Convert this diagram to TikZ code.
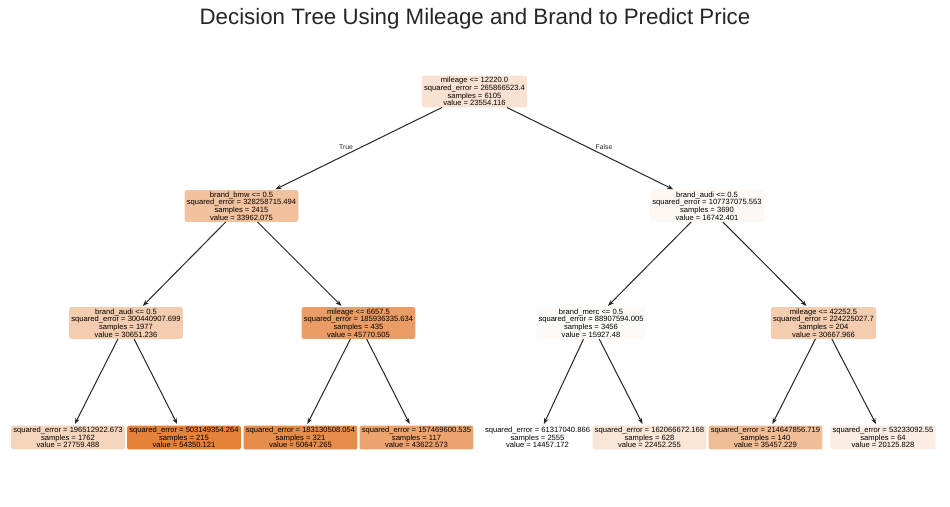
\documentclass[tikz,border=0pt]{standalone}
\usepackage{fontspec}
\setmainfont{Liberation Sans}
\usetikzlibrary{arrows.meta}
\definecolor{c0}{RGB}{249,226,210}
\definecolor{c1}{RGB}{242,193,158}
\definecolor{c2}{RGB}{253,248,244}
\definecolor{c3}{RGB}{244,204,175}
\definecolor{c4}{RGB}{235,156,100}
\definecolor{c5}{RGB}{254,250,248}
\definecolor{c6}{RGB}{244,204,175}
\definecolor{c7}{RGB}{246,213,189}
\definecolor{c8}{RGB}{229,129,57}
\definecolor{c9}{RGB}{231,141,75}
\definecolor{c10}{RGB}{236,163,110}
\definecolor{c11}{RGB}{255,255,255}
\definecolor{c12}{RGB}{250,230,215}
\definecolor{c13}{RGB}{241,189,151}
\definecolor{c14}{RGB}{251,237,227}
\definecolor{edgecol}{RGB}{38,38,38}
\tikzset{
  tnode/.style={rounded corners=2pt, inner xsep=2.2pt, inner ysep=1.6pt, align=center,
    font=\fontsize{7.6}{7.6}\selectfont, text=black},
  arr/.style={draw=edgecol, line width=1pt, -{Stealth[length=6pt,width=4.5pt]}, shorten >=1.5pt},
  elabel/.style={font=\fontsize{6.8}{7}\selectfont, text=black!85}
}
\begin{document}
\begin{tikzpicture}[x=1pt,y=-1pt]
\useasboundingbox (0,0) rectangle (950,506);
\fill[white] (0,0) rectangle (950,506);
\node[font=\fontsize{22.3}{24}\selectfont, text=black!85] (title) at (475,19) {Decision Tree Using Mileage and Brand to Predict Price};

\node[tnode, fill=c0] (n0) at (474.5,91.5) {mileage <= 12220.0\\squared\_error = 265866523.4\\samples = 6105\\value = 23554.116};
\node[tnode, fill=c1] (n1) at (241.5,206) {brand\_bmw <= 0.5\\squared\_error = 328258715.494\\samples = 2415\\value = 33962.075};
\node[tnode, fill=c2] (n2) at (707,206) {brand\_audi <= 0.5\\squared\_error = 107737075.553\\samples = 3690\\value = 16742.401};
\node[tnode, fill=c3] (n3) at (126,323) {brand\_audi <= 0.5\\squared\_error = 300440907.699\\samples = 1977\\value = 30651.236};
\node[tnode, fill=c4] (n4) at (358.5,323) {mileage <= 6657.5\\squared\_error = 185936335.634\\samples = 435\\value = 45770.505};
\node[tnode, fill=c5] (n5) at (591,323) {brand\_merc <= 0.5\\squared\_error = 88907594.005\\samples = 3456\\value = 15927.48};
\node[tnode, fill=c6] (n6) at (823.5,323) {mileage <= 42252.5\\squared\_error = 224225027.7\\samples = 204\\value = 30667.966};

\node[tnode, fill=c7] (l1) at (68,437.5) {squared\_error = 196512922.673\\samples = 1762\\value = 27759.488};
\node[tnode, fill=c8] (l2) at (184,437.5) {squared\_error = 503149354.264\\samples = 215\\value = 54350.121};
\node[tnode, fill=c9] (l3) at (300.5,437.5) {squared\_error = 183130508.054\\samples = 321\\value = 50647.265};
\node[tnode, fill=c10] (l4) at (416.5,437.5) {squared\_error = 157469600.535\\samples = 117\\value = 43622.573};
\node[tnode, fill=c11] (l5) at (537.5,437.5) {squared\_error = 61317040.866\\samples = 2555\\value = 14457.172};
\node[tnode, fill=c12] (l6) at (649.5,437.5) {squared\_error = 162066672.168\\samples = 628\\value = 22452.255};
\node[tnode, fill=c13] (l7) at (765.5,437.5) {squared\_error = 214647856.719\\samples = 140\\value = 35457.229};
\node[tnode, fill=c14] (l8) at (883,437.5) {squared\_error = 53233092.55\\samples = 64\\value = 20125.828};

\draw[arr] (n0) -- (n1);
\draw[arr] (n0) -- (n2);
\draw[arr] (n1) -- (n3);
\draw[arr] (n1) -- (n4);
\draw[arr] (n2) -- (n5);
\draw[arr] (n2) -- (n6);
\draw[arr] (n3) -- (l1);
\draw[arr] (n3) -- (l2);
\draw[arr] (n4) -- (l3);
\draw[arr] (n4) -- (l4);
\draw[arr] (n5) -- (l5);
\draw[arr] (n5) -- (l6);
\draw[arr] (n6) -- (l7);
\draw[arr] (n6) -- (l8);

\node[elabel] (tl) at (346,147) {True};
\node[elabel] (fl) at (604,147) {False};
\end{tikzpicture}
\end{document}
